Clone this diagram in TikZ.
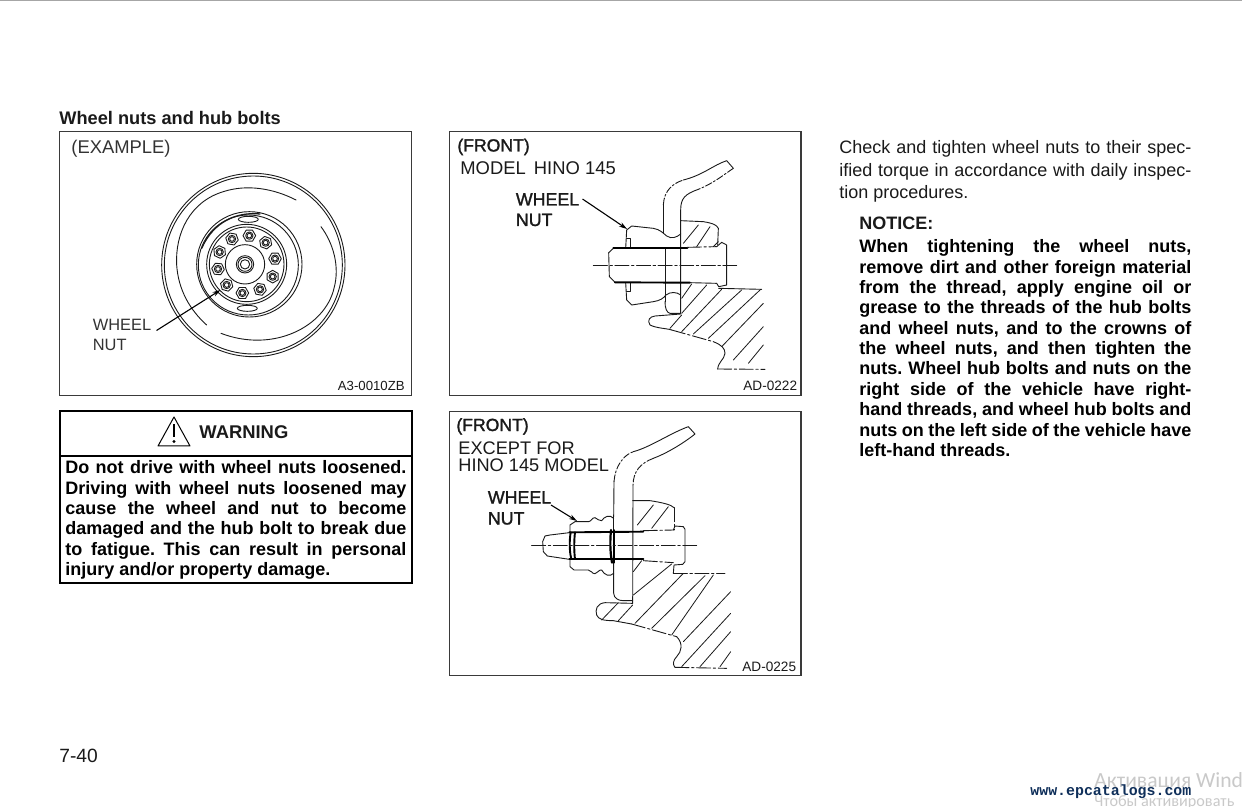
\documentclass[tikz,border=0pt]{standalone}
\usepackage{fontspec}
\setmainfont{Liberation Sans}
\newfontfamily\semibd[FakeBold=1.5]{Liberation Sans}
\newfontfamily\winfont{Carlito}
\newfontfamily\urlfont{Liberation Mono}
\definecolor{ink}{HTML}{1A1A1A}
\definecolor{framec}{HTML}{3A3A3A}
\definecolor{wmark}{HTML}{C9C9C9}
\definecolor{urlc}{HTML}{0F2F5A}
\newcommand{\fs}[2]{\fontsize{#1}{#2}\selectfont}
\frenchspacing
\usetikzlibrary{arrows.meta}
\tikzset{
  lab/.style={inner sep=0pt,anchor=base west,text=ink},
  panel/.style={draw=framec,line width=0.55pt},
  art/.style={draw=ink,line width=0.45pt,line join=round,line cap=round},
  heavy/.style={draw=black,line width=0.95pt,line cap=round},
  ddash/.style={art,dash pattern=on 7pt off 1.3pt on 1.2pt off 1.3pt},
  sdash/.style={art,dash pattern=on 3.5pt off 1pt on 1pt off 1pt},
  hatch/.style={draw=ink,line width=0.4pt,line cap=round},
  lead/.style={draw=black,line width=0.55pt,-{Stealth[length=4pt,width=2.4pt]}},
  zoomB/.style={shift={(450,130)},x=0.16667pt,y=-0.16667pt},
  zoomC/.style={shift={(450,410)},x=0.16667pt,y=-0.16667pt},
  zoomW/.style={shift={(160,170)},x=0.16667pt,y=-0.16667pt},
}
\begin{document}
\begin{tikzpicture}[x=0.5pt,y=-0.5pt]
\useasboundingbox (0,0) rectangle (1242,807);
\clip (0,0) rectangle (1242,807);
\fill[white] (0,0) rectangle (1242,807);
\draw[draw=black!35,line width=0.5pt] (0,0.5) -- (1242,0.5);

\node[lab,font=\bfseries\fs{9.1}{11}] (title) at (59,124.5) {Wheel nuts and hub bolts};

\draw[panel] (59.5,131.5) rectangle (411.5,395.5);
\draw[panel] (449.5,131.5) rectangle (801,395.5);
\draw[panel] (449.5,411.5) rectangle (801,675.5);

% wheel
\begin{scope}[zoomW]
  \draw[art] (280,285) circle[radius=275];
  \draw[art] (280,285) circle[radius=267];
  \draw[art] (408,90) .. controls (340,55) and (260,42) .. (190,65) .. controls (90,95) and (45,190) .. (50,285) .. controls (55,360) and (90,420) .. (140,465);
  \draw[art] (483,170) .. controls (520,220) and (540,290) .. (522,355) .. controls (495,470) and (340,550) .. (183,490);
  \draw[art] (268,283) circle[radius=158];
  \draw[art] (265,285) circle[radius=150];
  \draw[art,line width=0.65pt] (125,235) .. controls (160,155) and (230,125) .. (300,132);
  \draw[art] (260,283) circle[radius=120];
  \draw[art] (260,283) circle[radius=112];
  \draw[art] (255,283) circle[radius=59];
  \draw[art] (255,283) circle[radius=26];
  \draw[art] (255,283) circle[radius=21];
  \draw[art] (255,283) circle[radius=14];
  \draw[art] (265,148) ellipse[x radius=30,y radius=9];
  \draw[art] (262,415) ellipse[x radius=30,y radius=9];
  \foreach \nx/\ny/\rt in {216/207/10,268/197/0,317/218/20,345/266/0,338/320/30,300/358/10,247/369/0,200/345/15,174/297/5,179/246/25}{
    \draw[art,fill=white] ({\nx+19*cos(\rt)},{\ny+19*sin(\rt)})
      -- ({\nx+19*cos(\rt+60)},{\ny+19*sin(\rt+60)})
      -- ({\nx+19*cos(\rt+120)},{\ny+19*sin(\rt+120)})
      -- ({\nx+19*cos(\rt+180)},{\ny+19*sin(\rt+180)})
      -- ({\nx+19*cos(\rt+240)},{\ny+19*sin(\rt+240)})
      -- ({\nx+19*cos(\rt+300)},{\ny+19*sin(\rt+300)}) -- cycle;
    \draw[art] (\nx,\ny) circle[radius=11];
    \draw[art] (\nx,\ny) circle[radius=7];
  }
\end{scope}
\node[lab,font=\fs{9.2}{11},text=black!80] (ex) at (71,154) {(EXAMPLE)};
\node[lab,font=\fs{8.2}{10},text=black!80] (wn1) at (92.5,331) {WHEEL};
\node[lab,font=\fs{8.2}{10},text=black!80] (nu1) at (92.5,350.5) {NUT};
\node[lab,font=\fs{6.6}{8}] (code1) at (337.5,390.5) {A3-0010ZB};
\coordinate (tip1) at (220.5,290);
\coordinate (tail1) at (156.5,330.5);
\draw[lead] (tail1) -- (tip1);

% upper section
\begin{scope}[zoomB]
  \draw[art] (640,310) -- (640,225);
  \draw[sdash] (640,225) .. controls (642,180) and (670,160) .. (700,150);
  \draw[art] (700,150) .. controls (760,135) and (790,105) .. (830,92) -- (850,115);
  \draw[sdash] (850,115) .. controls (820,135) and (790,160) .. (745,178);
  \draw[art] (745,178) .. controls (705,192) and (692,205) .. (692,240) -- (692,550) -- (660,550) .. controls (650,548) and (645,535) .. (645,515);
  \draw[art] (645,355) -- (645,515);
  \draw[art] (527,355) -- (530,300) -- (545,288) -- (610,295) .. controls (630,298) and (640,310) .. (650,318) .. controls (665,328) and (680,322) .. (692,312);
  \draw[art] (527,458) -- (530,510) -- (545,525) -- (610,515) .. controls (630,512) and (640,505) .. (648,495) .. controls (660,485) and (680,485) .. (692,495);
  \draw[art] (530,325) -- (540,325) -- (540,352);
  \draw[art] (530,485) -- (540,485) -- (540,460);
  \draw[art] (490,355) -- (476,368) -- (478,440) -- (495,457);
  \draw[heavy] (490,355) -- (712,355);
  \draw[heavy] (495,457) -- (720,458);
  \draw[ddash] (712,352) -- (800,350);
  \draw[art] (720,458) -- (800,460);
  \draw[art] (800,350) -- (815,337) -- (830,345) -- (830,465) -- (806,470) -- (800,460);
  \draw[ddash] (430,405) -- (860,405);
  \draw[art] (692,272) -- (760,275) .. controls (790,280) and (800,285) .. (805,295) -- (803,345);
  \draw[hatch] (700,340) -- (745,285);
  \draw[hatch] (740,350) -- (780,290);
  \draw[hatch] (790,350) -- (805,335);
  \draw[art] (806,475) -- (935,478);
  \draw[art] (692,552) -- (615,558) .. controls (600,560) and (590,570) .. (600,585) .. controls (620,595) and (650,595) .. (665,600);
  \draw[ddash] (665,600) -- (790,635);
  \draw[art] (790,635) .. controls (815,645) and (825,655) .. (825,670) .. controls (822,690) and (805,695) .. (803,717);
  \draw[ddash] (803,717) -- (945,718);
  \draw[hatch] (695,505) -- (725,462);
  \draw[hatch] (695,550) -- (770,465);
  \draw[hatch] (660,595) -- (695,555);
  \draw[hatch] (695,605) -- (815,478);
  \draw[hatch] (730,612) -- (875,480);
  \draw[hatch] (775,625) -- (930,480);
  \draw[hatch] (815,650) -- (940,520);
  \draw[hatch] (850,690) -- (940,590);
  \draw[hatch] (895,700) -- (940,645);
\end{scope}
\node[lab,font=\semibd\fs{8.8}{11}] (fr1) at (457,151.5) {(FRONT)};
\node[lab,font=\fs{9.2}{11}] (mo1) at (460,174.5) {MODEL\hspace{1.5pt} HINO 145};
\node[lab,font=\semibd\fs{8.9}{11}] (wn2) at (515.5,205.5) {WHEEL};
\node[lab,font=\semibd\fs{8.9}{11}] (nu2) at (515.5,226) {NUT};
\node[lab,font=\fs{6.8}{8}] (code2) at (743,391) {AD-0222};
\coordinate (tail2) at (582.5,199);
\coordinate (tip2) at (627,229);
\draw[lead] (tail2) -- (tip2);

% lower section
\begin{scope}[zoomC]
  \draw[art] (491,320) -- (492,215);
  \draw[sdash] (492,215) .. controls (495,170) and (520,135) .. (550,125);
  \draw[art] (550,125) .. controls (600,112) and (660,70) .. (715,50) -- (735,72) .. controls (700,100) and (650,130) .. (610,145);
  \draw[sdash] (610,145) .. controls (570,160) and (550,185) .. (549,225);
  \draw[art] (549,225) -- (548,580);
  \draw[art] (491,458) -- (491,550) .. controls (492,565) and (505,572) .. (520,572) -- (548,572);
  \draw[art] (491,320) -- (491,360);
  \draw[art] (360,365) -- (360,345) -- (375,335) -- (415,335) .. controls (425,335) and (425,322) .. (435,323) .. controls (445,325) and (445,335) .. (455,332) .. controls (462,320) and (480,312) .. (491,325);
  \draw[art] (360,450) -- (360,470) -- (372,480) -- (415,480) .. controls (425,480) and (425,492) .. (435,491) .. controls (445,490) and (445,478) .. (455,480) .. controls (462,495) and (480,502) .. (491,490);
  \draw[art] (358,368) -- (300,375) -- (285,378) -- (278,395) -- (280,425) -- (292,438) -- (358,448);
  \draw[heavy] (358,367) -- (580,365);
  \draw[heavy] (358,447) -- (580,447);
  \draw[heavy] (362,367) .. controls (358,390) and (358,425) .. (364,447);
  \draw[heavy] (375,367) .. controls (372,390) and (372,425) .. (375,447);
  \draw[heavy,line width=1.1pt] (483,360) .. controls (480,390) and (480,425) .. (486,458);
  \draw[heavy] (492,360) -- (492,458);
  \draw[ddash] (580,362) -- (670,360);
  \draw[ddash] (580,452) -- (670,458);
  \draw[art] (670,360) -- (675,348) -- (700,350) -- (705,358) -- (705,455) -- (698,463) -- (672,465) -- (670,490);
  \draw[ddash] (245,407) -- (740,407);
  \draw[art] (548,272) -- (600,272) .. controls (640,278) and (665,285) .. (672,293);
  \draw[ddash] (672,293) -- (672,360);
  \draw[hatch] (562,345) -- (610,285);
  \draw[hatch] (605,355) -- (655,290);
  \draw[ddash] (670,490) -- (825,490);
  \draw[art] (548,580) -- (465,578) .. controls (440,580) and (435,600) .. (440,615) .. controls (445,628) and (460,632) .. (490,632) -- (545,642);
  \draw[ddash] (545,642) -- (680,680);
  \draw[art] (680,680) .. controls (700,700) and (695,725) .. (680,740) .. controls (668,752) and (668,765) .. (675,772);
  \draw[ddash] (675,772) -- (830,775);
  \draw[hatch] (550,485) -- (575,452);
  \draw[hatch] (550,555) -- (665,462);
  \draw[hatch] (455,630) -- (505,578);
  \draw[hatch] (505,632) -- (548,585);
  \draw[hatch] (555,640) -- (700,490);
  \draw[hatch] (605,655) -- (765,497);
  \draw[hatch] (665,675) -- (790,495);
  \draw[hatch] (700,695) -- (842,545);
  \draw[hatch] (695,770) -- (842,610);
  \draw[hatch] (750,770) -- (842,665);
  \draw[hatch] (810,770) -- (842,725);
\end{scope}
\node[lab,font=\semibd\fs{8.8}{11}] (fr2) at (456,431) {(FRONT)};
\node[lab,font=\fs{9.1}{11}] (ex2) at (458,454.5) {EXCEPT FOR};
\node[lab,font=\fs{9.1}{11}] (hi2) at (458,472) {HINO 145 MODEL};
\node[lab,font=\semibd\fs{8.9}{11}] (wn3) at (487.5,503.5) {WHEEL};
\node[lab,font=\semibd\fs{8.9}{11}] (nu3) at (487.5,524.5) {NUT};
\node[lab,font=\fs{6.8}{8}] (code3) at (742,671) {AD-0225};
\coordinate (tail3) at (551,505);
\coordinate (tip3) at (577,521);
\draw[lead] (tail3) -- (tip3);

% warning
\draw[draw=black,line width=1pt] (59.5,411) rectangle (412,582.5);
\draw[draw=black,line width=1pt] (59.5,456.5) -- (412,456.5);
\draw[draw=black,line width=0.5pt,line join=round] (174,417) -- (190,446) -- (158,446) -- cycle;
\draw[draw=black,line width=1.1pt] (174,424) -- (174,437);
\fill[black] (174,441.5) circle[radius=1.7];
\node[lab,font=\bfseries\fs{9.2}{11}] (warn) at (199,438.5) {WARNING};
\node[inner sep=0pt,anchor=north west,text width=170.5pt,align=justify,font=\bfseries\fs{9}{10.17},text=black] (warntext) at (65,460.5) {Do not drive with wheel nuts loosened.\linebreak Driving with wheel nuts loosened may\linebreak cause the wheel and nut to become\linebreak damaged and the hub bolt to break due\linebreak to fatigue. This can result in personal\linebreak injury and/or property damage.};

% right text
\node[inner sep=0pt,anchor=north west,text width=176pt,align=justify,font=\fs{9}{11.2},text=ink] (body) at (839,140.5) {Check and tighten wheel nuts to their spec-\linebreak ified torque in accordance with daily inspec-\linebreak tion procedures.};
\node[lab,font=\bfseries\fs{9}{11}] (notice) at (859,230) {NOTICE:};
\node[inner sep=0pt,anchor=north west,text width=166pt,align=justify,font=\bfseries\fs{9}{10.17},text=black] (noticetext) at (859,239.5) {When tightening the wheel nuts,\linebreak remove dirt and other foreign material\linebreak from the thread, apply engine oil or\linebreak grease to the threads of the hub bolts\linebreak and wheel nuts, and to the crowns of\linebreak the wheel nuts, and then tighten the\linebreak nuts. Wheel hub bolts and nuts on the\linebreak right side of the vehicle have right-\linebreak hand threads, and wheel hub bolts and\linebreak nuts on the left side of the vehicle have\linebreak left-hand threads.};

\node[lab,font=\fs{9.6}{11}] (pg) at (59,762) {7-40};

% overlay marks
\node[lab,font=\winfont\fs{10.8}{13},text=wmark] (w1) at (1094,787) {Активация Wind};
\node[lab,font=\winfont\fs{8.1}{12},text=wmark] (w2) at (1094,806.5) {Чтобы активировать};
\node[lab,font=\urlfont\bfseries\fs{7.45}{9},text=urlc] (url) at (1030,795) {www.epcatalogs.com};
\end{tikzpicture}
\end{document}
